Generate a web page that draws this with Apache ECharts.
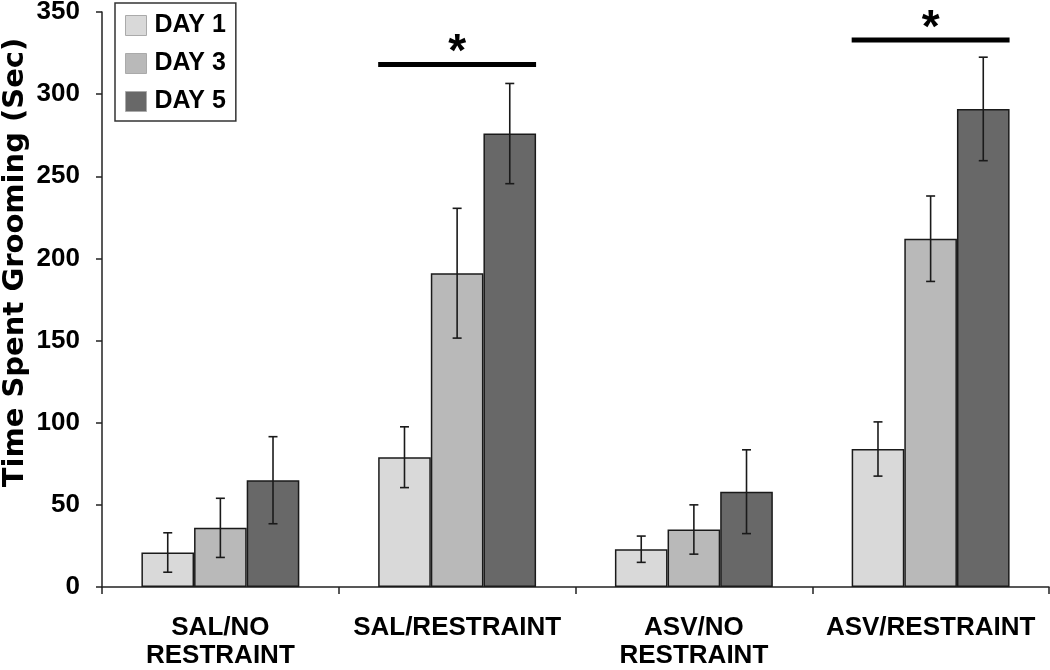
<!DOCTYPE html>
<html>
<head>
<meta charset="utf-8">
<script src="https://cdn.jsdelivr.net/npm/echarts@6/dist/echarts.min.js"></script>
<style>html,body{margin:0;padding:0;background:#fff}#c{width:1050px;height:670px}</style>
</head>
<body>
<div id="c"></div>
<script>
var categories = ['SAL/NO\nRESTRAINT', 'SAL/RESTRAINT', 'ASV/NO\nRESTRAINT', 'ASV/RESTRAINT'];
var seriesNames = ['DAY 1', 'DAY 3', 'DAY 5'];
var day1 = [21, 79, 23, 84];
var day1Err = [12, 18.5, 8, 16.5];
var day3 = [36, 191, 35, 212];
var day3Err = [18, 39.5, 15, 26];
var day5 = [65, 276, 58, 291];
var day5Err = [26.5, 30.5, 25.5, 31.5];
var sigGroups = [1, 3];
var sigLevels = [318, 333];
var yTicks = [0, 50, 100, 150, 200, 250, 300, 350];

var FONT = '"Liberation Sans", Arial, sans-serif';
var TITLE_FONT = '"DejaVu Sans", "Liberation Sans", sans-serif';
var GAP = 0.333;
var colors = ['#d9d9d9', '#b9b9b9', '#686868'];
var values = [day1, day3, day5];
var errs = [day1Err, day3Err, day5Err];

function errRender(offsetIdx) {
  return function (params, api) {
    var x = api.value(0);
    var lo = api.coord([x, api.value(1)]);
    var hi = api.coord([x, api.value(2)]);
    var band = api.size([1, 0])[0];
    var bw = band * (1 - GAP) / 3;
    var cx = lo[0] + offsetIdx * bw;
    var cap = 4.5;
    var st = { stroke: '#1a1a1a', lineWidth: 1.6 };
    return { type: 'group', children: [
      { type: 'line', shape: { x1: cx, y1: lo[1], x2: cx, y2: hi[1] }, style: st },
      { type: 'line', shape: { x1: cx - cap, y1: lo[1], x2: cx + cap, y2: lo[1] }, style: st },
      { type: 'line', shape: { x1: cx - cap, y1: hi[1], x2: cx + cap, y2: hi[1] }, style: st }
    ]};
  };
}

function sigRender(params, api) {
  var x = api.value(0);
  var p = api.coord([x, api.value(1)]);
  var band = api.size([1, 0])[0];
  var half = band * (1 - GAP) / 2;
  return { type: 'group', children: [
    { type: 'line', shape: { x1: p[0] - half, y1: p[1], x2: p[0] + half, y2: p[1] },
      style: { stroke: '#000', lineWidth: 5 } },
    { type: 'text', x: p[0], y: p[1] + 12,
      style: { text: '*', fill: '#000', font: 'bold 46px ' + FONT, align: 'center', verticalAlign: 'bottom' } }
  ]};
}

var series = [];
for (var s = 0; s < 3; s++) {
  series.push({
    name: seriesNames[s], type: 'bar', data: values[s],
    barGap: '0%', barCategoryGap: (GAP * 100) + '%',
    itemStyle: { color: colors[s], borderColor: '#1a1a1a', borderWidth: 1.5 },
    z: 2
  });
}
for (var s2 = 0; s2 < 3; s2++) {
  var d = [];
  for (var i = 0; i < categories.length; i++) {
    d.push([i, values[s2][i] - errs[s2][i], values[s2][i] + errs[s2][i]]);
  }
  series.push({
    type: 'custom', renderItem: errRender(s2 - 1), data: d,
    encode: { x: 0, y: [1, 2] }, z: 5, silent: true
  });
}
var sigData = sigGroups.map(function (g, k) { return [g, sigLevels[k]]; });
series.push({ type: 'custom', renderItem: sigRender, data: sigData, encode: { x: 0, y: 1 }, z: 5, silent: true });

var chart = echarts.init(document.getElementById('c'), null, { renderer: 'canvas' });
chart.setOption({
  animation: false,
  backgroundColor: '#fff',
  textStyle: { fontFamily: FONT },
  grid: { left: 102, right: 1, top: 12, bottom: 83, containLabel: false, outerBoundsMode: 'none' },
  legend: {
    data: seriesNames, orient: 'vertical', left: 115, top: 3,
    itemWidth: 21, itemHeight: 20, itemGap: 13,
    padding: [10, 10, 7, 10],
    borderColor: '#333', borderWidth: 1.5,
    icon: 'rect',
    itemStyle: { borderColor: '#aaa', borderWidth: 1 },
    textStyle: { fontFamily: FONT, fontWeight: 'bold', fontSize: 25, color: '#000', padding: [0, 0, 0, 3] }
  },
  xAxis: {
    type: 'category', data: categories,
    axisLine: { lineStyle: { color: '#222', width: 1.5 } },
    axisTick: { show: true, alignWithLabel: false, length: 7, lineStyle: { color: '#222', width: 1.5 } },
    axisLabel: { fontFamily: FONT, fontWeight: 'bold', fontSize: 26, color: '#000', margin: 27, lineHeight: 28, interval: 0 }
  },
  yAxis: {
    type: 'value', min: 0, max: 350, interval: 50,
    name: 'Time Spent Grooming (Sec)', nameLocation: 'middle', nameGap: 72, nameRotate: 90,
    nameMoveOverlap: false,
    nameTextStyle: { fontFamily: TITLE_FONT, fontWeight: 'bold', fontSize: 29, color: '#000', padding: [0, 0, 0, 74] },
    axisLine: { show: true, lineStyle: { color: '#222', width: 1.5 } },
    axisTick: { show: true, length: 6, lineStyle: { color: '#222', width: 1.5 } },
    splitLine: { show: false },
    axisLabel: { fontFamily: FONT, fontWeight: 'bold', fontSize: 26, color: '#000', margin: 22,
      formatter: function (v) { return yTicks.indexOf(v) >= 0 ? String(v) : ''; } }
  },
  series: series
});
</script>
</body>
</html>
